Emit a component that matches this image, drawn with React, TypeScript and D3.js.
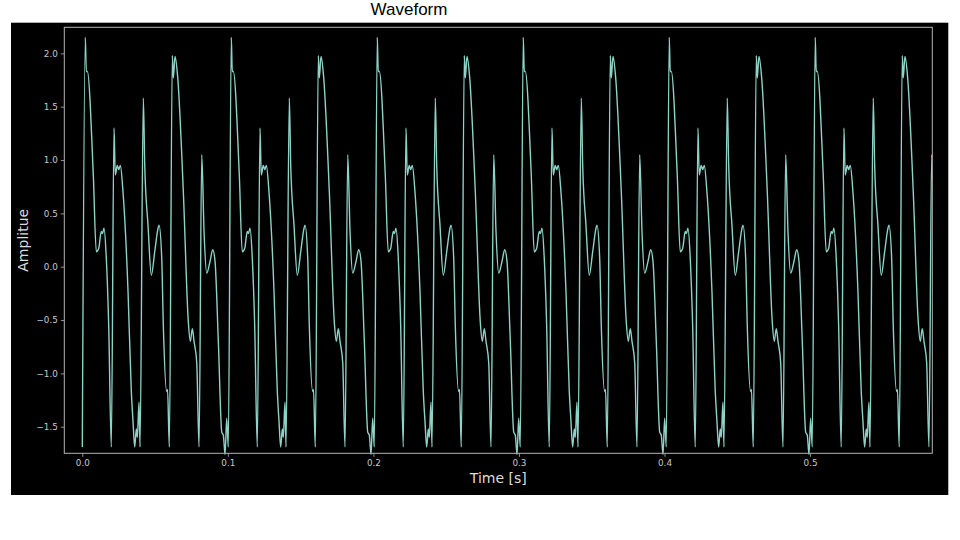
import React, { useEffect, useRef } from "react";
import * as d3 from "d3";

// one period of the signal: offset inside the period (ms) and amplitude
const cycleOffsetsMs = [
  0, 2.06, 2.75, 3.44, 7.56, 9.62, 11.27, 13.06, 13.88, 14.91, 16.49, 18.14, 19.93,
  21.79, 22.68, 24.05, 25.02, 26.12, 27.97, 31.41, 33.68, 34.85, 36.01, 37.11, 37.8,
  38.97, 39.66, 41.92, 42.89, 45.15, 47.42, 49.76, 52.03, 52.71, 54.57, 55.67, 58.01,
  58.56, 59.79, 61.86, 62.54, 63.71, 65.57, 69.42, 72.85, 74.23, 75.6, 76.77, 78.63,
  80.21, 82.06, 83.64, 85.5, 87.77, 89.62, 91.2, 93.47, 95.81, 96.91, 98.08, 99.24,
];
const cycleAmplitudes = [
  -1.69, 2.15, 1.83, 1.83, 0.86, 0.14, 0.17, 0.33, 0.31, 0.36, 0.08, -0.55, -1.69,
  1.3, 0.86, 0.95, 0.91, 0.95, 0.7, -0.23, -1.17, -1.45, -1.69, -1.52, -1.6,
  -1.27, -1.69, 1.58, 0.95, 0.39, -0.08, 0.14, 0.36, 0.39, 0.08, -0.55, -1.17,
  -1.15, -1.69, 1.98, 1.77, 1.97, 1.77, 0.7, -0.52, -0.7, -0.58, -0.7, -0.9,
  -1.69, 1.05, 0.33, -0.06, 0.05, 0.16, 0.05, -0.7, -1.55, -1.58, -1.76, -1.42,
];
// where each period begins (s), read from the big peaks
const cycleStarts = [0, 0.1003, 0.2006, 0.3009, 0.4012, 0.5015];

const xTicks = [0, 0.1, 0.2, 0.3, 0.4, 0.5];
const yTicks = [-1.5, -1.0, -0.5, 0.0, 0.5, 1.0, 1.5, 2.0];
const xLimits = [-0.01237, 0.584];
const yLimits = [-1.749, 2.244];

const W = 960;
const H = 540;
const plot = { left: 64.3, right: 932.3, top: 27.3, bottom: 453.3 };

const App: React.FC = () => {
  const axisRef = useRef<SVGGElement>(null);

  const x = d3.scaleLinear().domain(xLimits).range([plot.left, plot.right]);
  const y = d3.scaleLinear().domain(yLimits).range([plot.bottom, plot.top]);

  const samples: [number, number][] = [];
  cycleStarts.forEach((start) => {
    cycleOffsetsMs.forEach((ms, i) => {
      samples.push([start + ms / 1000, cycleAmplitudes[i]]);
    });
  });

  const line = d3
    .line<[number, number]>()
    .x((d) => x(d[0]))
    .y((d) => y(d[1]))
    .curve(d3.curveMonotoneX);

  useEffect(() => {
    const g = d3.select(axisRef.current);
    g.selectAll("*").remove();

    const fmt = d3.format(".1f");

    const ax = g
      .append("g")
      .attr("transform", `translate(0,${plot.bottom})`)
      .call(d3.axisBottom(x).tickValues(xTicks).tickSize(3.5).tickPadding(3).tickFormat((d) => fmt(d as number)));
    const ay = g
      .append("g")
      .attr("transform", `translate(${plot.left},0)`)
      .call(d3.axisLeft(y).tickValues(yTicks).tickSize(3.5).tickPadding(3).tickFormat((d) => fmt(d as number)));

    [ax, ay].forEach((a) => {
      a.select(".domain").remove();
      a.selectAll("line").attr("stroke", "#b4b4b4").attr("stroke-width", 0.8);
      a.selectAll("text")
        .attr("fill", "#c8c8c8")
        .style("font-family", "'DejaVu Sans', sans-serif")
        .style("font-size", "8.8px");
    });
  }, []);

  return (
    <svg
      width={W}
      height={H}
      style={{ position: "absolute", left: 0, top: 0, background: "#fff" }}
    >
      <text
        x={409}
        y={14.5}
        textAnchor="middle"
        fontFamily="'Liberation Sans', Arial, sans-serif"
        fontSize={17}
        fill="#000"
      >
        Waveform
      </text>
      <rect x={11} y={22.7} width={937.3} height={472.3} fill="#000" />
      <defs>
        <clipPath id="plot-clip">
          <rect
            x={plot.left}
            y={plot.top - 2}
            width={plot.right - plot.left}
            height={plot.bottom - plot.top + 4}
          />
        </clipPath>
      </defs>
      <path
        d={line(samples) ?? ""}
        fill="none"
        stroke="#8dd3c7"
        strokeWidth={1.4}
        strokeLinejoin="round"
        clipPath="url(#plot-clip)"
      />
      <rect
        x={plot.left}
        y={plot.top}
        width={plot.right - plot.left}
        height={plot.bottom - plot.top}
        fill="none"
        stroke="#b4b4b4"
        strokeWidth={1}
      />
      <g ref={axisRef} />
      <text
        x={(plot.left + plot.right) / 2}
        y={483}
        textAnchor="middle"
        fontFamily="'DejaVu Sans', sans-serif"
        fontSize={14}
        fill="#dcdcdc"
      >
        Time [s]
      </text>
      <text
        transform={`translate(28,${(plot.top + plot.bottom) / 2}) rotate(-90)`}
        textAnchor="middle"
        fontFamily="'DejaVu Sans', sans-serif"
        fontSize={14}
        fill="#dcdcdc"
      >
        Amplitue
      </text>
    </svg>
  );
};

export default App;
